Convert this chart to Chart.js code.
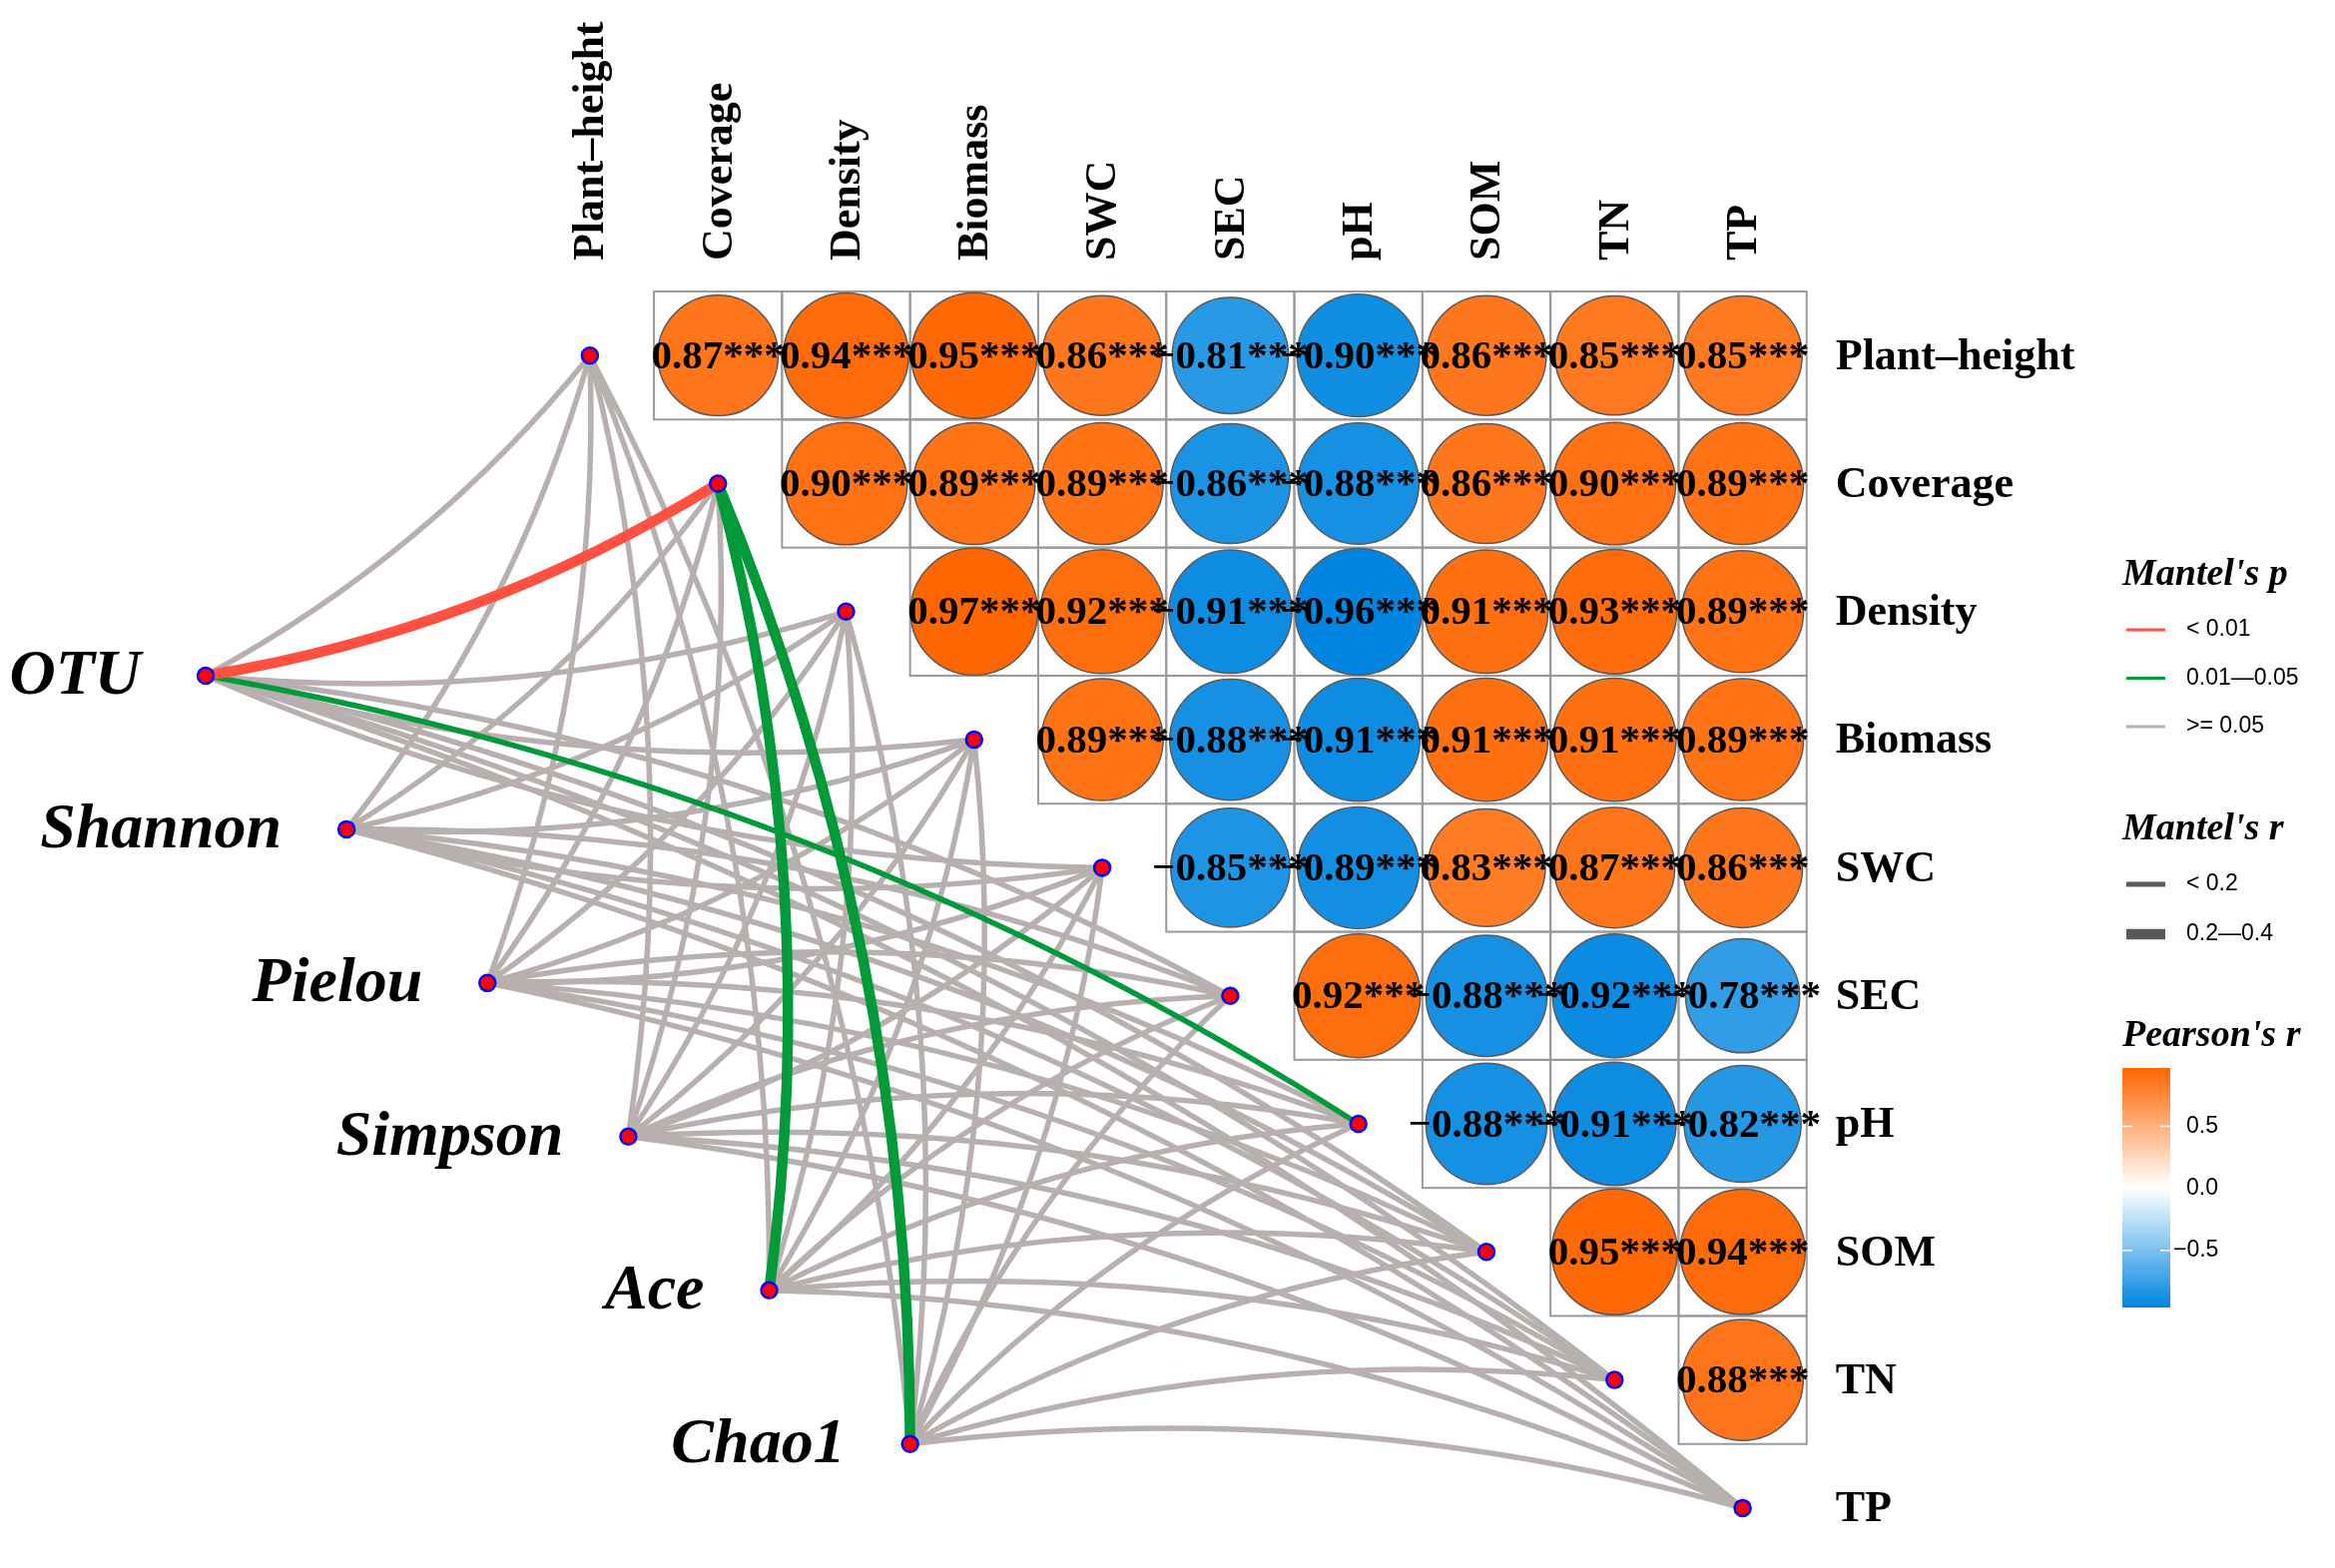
<!DOCTYPE html>
<html>
<head>
<meta charset="utf-8">
<title>Mantel test and Pearson correlation</title>
<script src="https://cdn.jsdelivr.net/npm/chart.js@4.4.1/dist/chart.umd.min.js"></script>
<style>
  html, body { margin: 0; padding: 0; background: #fff; }
</style>
</head>
<body>
<canvas id="chart" width="2339" height="1571"></canvas>
<script>
// environmental factors (rows / columns of the matrix)
const envNames = ['Plant–height', 'Coverage', 'Density', 'Biomass', 'SWC', 'SEC', 'pH', 'SOM', 'TN', 'TP'];
// community indices (nodes on the left)
const specNames = ['OTU', 'Shannon', 'Pielou', 'Simpson', 'Ace', 'Chao1'];

// Pearson's r, upper triangle, each row starts right of the diagonal
const rPlantHeight = [0.87, 0.94, 0.95, 0.86, -0.81, -0.90, 0.86, 0.85, 0.85];
const rCoverage = [0.90, 0.89, 0.89, -0.86, -0.88, 0.86, 0.90, 0.89];
const rDensity = [0.97, 0.92, -0.91, -0.96, 0.91, 0.93, 0.89];
const rBiomass = [0.89, -0.88, -0.91, 0.91, 0.91, 0.89];
const rSWC = [-0.85, -0.89, 0.83, 0.87, 0.86];
const rSEC = [0.92, -0.88, -0.92, -0.78];
const rPH = [-0.88, -0.91, -0.82];
const rSOM = [0.95, 0.94];
const rTN = [0.88];
const corrRows = [rPlantHeight, rCoverage, rDensity, rBiomass, rSWC, rSEC, rPH, rSOM, rTN];
const signif = '***';

// Mantel's p class per env factor: 0 = < 0.01, 1 = 0.01-0.05, 2 = >= 0.05
const pOTU     = [2, 0, 2, 2, 2, 2, 1, 2, 2, 2];
const pShannon = [2, 2, 2, 2, 2, 2, 2, 2, 2, 2];
const pPielou  = [2, 2, 2, 2, 2, 2, 2, 2, 2, 2];
const pSimpson = [2, 2, 2, 2, 2, 2, 2, 2, 2, 2];
const pAce     = [2, 1, 2, 2, 2, 2, 2, 2, 2, 2];
const pChao1   = [2, 1, 2, 2, 2, 2, 2, 2, 2, 2];
const mantelP = [pOTU, pShannon, pPielou, pSimpson, pAce, pChao1];

// Mantel's r class: 0 = < 0.2, 1 = 0.2-0.4
const rcOTU     = [0, 1, 0, 0, 0, 0, 0, 0, 0, 0];
const rcShannon = [0, 0, 0, 0, 0, 0, 0, 0, 0, 0];
const rcPielou  = [0, 0, 0, 0, 0, 0, 0, 0, 0, 0];
const rcSimpson = [0, 0, 0, 0, 0, 0, 0, 0, 0, 0];
const rcAce     = [0, 1, 0, 0, 0, 0, 0, 0, 0, 0];
const rcChao1   = [0, 1, 0, 0, 0, 0, 0, 0, 0, 0];
const mantelR = [rcOTU, rcShannon, rcPielou, rcSimpson, rcAce, rcChao1];

const pLabels = ['< 0.01', '0.01—0.05', '>= 0.05'];
const rLabels = ['< 0.2', '0.2—0.4'];
const barTicks = [0.5, 0.0, -0.5];
const barTickLabels = ['0.5', '0.0', '−0.5'];

// ---- styling / layout ----
const unit = 128.3;            // pixels per matrix cell
const pColours = ['#FF5040', '#009A3A', '#B8AFAF'];
const rWidths = [5.5, 10.5];
const specLayout = { x0: -3.0, dx: 1.1, y0: 2.5, dy: 1.2 };
const curvature = 0.1;
const colLimits = [-0.96, 0.97];
const blueEnd = [0, 134, 224];
const orangeEnd = [255, 102, 0];
const serif = '"Liberation Serif", "Times New Roman", serif';
const sans = '"Liberation Sans", Arial, sans-serif';

// marks near the canvas edge must not shrink the chart area
class FlatBubble extends Chart.BubbleController { getMaxOverflow() { return 0; } }
FlatBubble.id = 'flatBubble';
FlatBubble.defaults = Chart.BubbleController.defaults;
class FlatScatter extends Chart.ScatterController { getMaxOverflow() { return 0; } }
FlatScatter.id = 'flatScatter';
FlatScatter.defaults = Chart.ScatterController.defaults;
Chart.register(FlatBubble, FlatScatter);

// blue - white - orange gradient over the data range
function fillFor(v) {
  const p = (v - colLimits[0]) / (colLimits[1] - colLimits[0]);
  let end, t;
  if (p < 0.5) { end = blueEnd; t = 1 - p / 0.5; }
  else { end = orangeEnd; t = (p - 0.5) / 0.5; }
  t = Math.max(0, Math.min(1, t));
  const c = end.map(e => Math.round(255 + (e - 255) * t));
  return 'rgb(' + c.join(',') + ')';
}

// ---- datasets ----
const cellData = [];
corrRows.forEach((row, i) => {
  row.forEach((v, k) => cellData.push({
    x: i + 1 + k,
    y: i,
    v: v,
    r: unit / 2 * Math.sqrt(Math.abs(v)) + 0.5
  }));
});

const envNodes = envNames.map((n, j) => ({ x: j, y: j }));
const specNodes = specNames.map((n, k) => ({
  x: specLayout.x0 + specLayout.dx * k,
  y: specLayout.y0 + specLayout.dy * k
}));

const datasets = [];
datasets.push({
  type: 'flatScatter',
  data: envNodes.concat(specNodes),
  pointRadius: 8,
  backgroundColor: '#FF0000',
  borderColor: '#0000FF',
  borderWidth: 2.5,
  order: 0
});
datasets.push({
  type: 'flatBubble',
  data: cellData,
  backgroundColor: cellData.map(d => fillFor(d.v)),
  borderColor: '#5A5A5A',
  borderWidth: 1.5,
  hoverRadius: 0,
  order: 1
});
specNames.forEach((s, k) => {
  envNames.forEach((e, j) => {
    const pc = mantelP[k][j];
    datasets.push({
      type: 'flatScatter',
      edge: true,
      bend: j <= 4 ? 1 : -1,
      data: [specNodes[k], envNodes[j]],
      borderColor: pColours[pc],
      borderWidth: rWidths[mantelR[k][j]],
      pointRadius: 0,
      order: pc === 2 ? 3 : 2
    });
  });
});

// ---- plugins ----
const gridCells = {
  id: 'gridCells',
  beforeDatasetsDraw(chart) {
    const { ctx, scales: { x, y } } = chart;
    ctx.save();
    ctx.strokeStyle = '#9A9A9A';
    ctx.lineWidth = 2;
    corrRows.forEach((row, i) => {
      row.forEach((v, k) => {
        const j = i + 1 + k;
        const x0 = x.getPixelForValue(j - 0.5), x1 = x.getPixelForValue(j + 0.5);
        const y0 = y.getPixelForValue(i - 0.5), y1 = y.getPixelForValue(i + 0.5);
        ctx.strokeRect(x0, y0, x1 - x0, y1 - y0);
      });
    });
    ctx.restore();
  }
};

const edgeCurves = {
  id: 'edgeCurves',
  beforeDatasetDraw(chart, args) {
    const ds = chart.data.datasets[args.index];
    if (!ds.edge) return;
    const a = args.meta.data[0], b = args.meta.data[1];
    const dx = b.x - a.x, dy = b.y - a.y;
    const cx = (a.x + b.x) / 2 + ds.bend * curvature * -dy;
    const cy = (a.y + b.y) / 2 + ds.bend * curvature * dx;
    const ctx = chart.ctx;
    ctx.save();
    ctx.beginPath();
    ctx.moveTo(a.x, a.y);
    ctx.quadraticCurveTo(cx, cy, b.x, b.y);
    ctx.strokeStyle = ds.borderColor;
    ctx.lineWidth = ds.borderWidth;
    ctx.lineCap = 'butt';
    ctx.stroke();
    ctx.restore();
    return false;
  }
};

const labels = {
  id: 'labels',
  afterDatasetsDraw(chart) {
    const { ctx, scales: { x, y } } = chart;
    ctx.save();
    ctx.fillStyle = '#000';
    // values in the circles
    const meta = chart.getDatasetMeta(1);
    ctx.font = 'bold 41px ' + serif;
    ctx.textAlign = 'center';
    ctx.textBaseline = 'middle';
    meta.data.forEach((el, k) => {
      const v = cellData[k].v;
      const txt = (v < 0 ? '−' : '') + Math.abs(v).toFixed(2) + signif;
      ctx.fillText(txt, el.x, el.y + 2);
    });
    // column labels (top, rotated)
    ctx.font = 'bold 44px ' + serif;
    ctx.textAlign = 'left';
    const topY = y.getPixelForValue(-0.5) - 31;
    envNames.forEach((n, j) => {
      ctx.save();
      ctx.translate(x.getPixelForValue(j) + 2, topY);
      ctx.rotate(-Math.PI / 2);
      ctx.fillText(n, 0, 0);
      ctx.restore();
    });
    // row labels (right)
    const rightX = x.getPixelForValue(9.5) + 29;
    envNames.forEach((n, i) => ctx.fillText(n, rightX, y.getPixelForValue(i) + 2));
    // community labels
    ctx.font = 'italic bold 64px ' + serif;
    ctx.textAlign = 'right';
    const nodeMeta = chart.getDatasetMeta(0);
    specNames.forEach((n, k) => {
      const el = nodeMeta.data[envNames.length + k];
      ctx.fillText(n, el.x - 65, el.y + 2);
    });
    ctx.restore();
  },
  afterDraw(chart) {
    const ctx = chart.ctx;
    ctx.save();
    ctx.fillStyle = '#000';
    ctx.textBaseline = 'middle';
    ctx.textAlign = 'left';
    const lx = 2126;
    const titleFont = 'italic bold 38px ' + serif;
    const itemFont = '23px ' + sans;
    // Mantel's p
    ctx.font = titleFont;
    ctx.fillText("Mantel's p", lx, 576);
    ctx.font = itemFont;
    pLabels.forEach((t, k) => {
      const yy = 631 + k * 48.5;
      ctx.strokeStyle = pColours[k];
      ctx.lineWidth = 3;
      ctx.beginPath(); ctx.moveTo(2130, yy); ctx.lineTo(2169, yy); ctx.stroke();
      ctx.fillText(t, 2190, yy);
    });
    // Mantel's r
    ctx.font = titleFont;
    ctx.fillText("Mantel's r", lx, 831);
    ctx.font = itemFont;
    const legW = [5, 10.5];
    rLabels.forEach((t, k) => {
      const yy = 886 + k * 50;
      ctx.strokeStyle = '#5A5A5A';
      ctx.lineWidth = legW[k];
      ctx.beginPath(); ctx.moveTo(2130, yy); ctx.lineTo(2169, yy); ctx.stroke();
      ctx.fillText(t, 2190, yy);
    });
    // Pearson's r colour bar
    ctx.font = titleFont;
    ctx.fillText("Pearson's r", lx, 1038);
    const bx = 2126, bw = 48, bTop = 1070, bBot = 1310;
    const vTop = colLimits[1], vBot = colLimits[0];
    const grad = ctx.createLinearGradient(0, bTop, 0, bBot);
    for (let s = 0; s <= 40; s++) {
      const v = vTop + (vBot - vTop) * s / 40;
      grad.addColorStop(s / 40, fillFor(v));
    }
    ctx.fillStyle = grad;
    ctx.fillRect(bx, bTop, bw, bBot - bTop);
    const vy = v => bTop + (vTop - v) / (vTop - vBot) * (bBot - bTop);
    ctx.strokeStyle = '#FFFFFF';
    ctx.lineWidth = 1.5;
    ctx.font = itemFont;
    ctx.fillStyle = '#000';
    barTicks.forEach((v, k) => {
      const yy = vy(v);
      ctx.beginPath();
      ctx.moveTo(bx, yy); ctx.lineTo(bx + 10, yy);
      ctx.moveTo(bx + bw - 10, yy); ctx.lineTo(bx + bw, yy);
      ctx.stroke();
      const tx = barTickLabels[k].startsWith('−') ? 2177 : 2190;
      ctx.fillText(barTickLabels[k], tx, yy);
    });
    ctx.restore();
  }
};

new Chart(document.getElementById('chart'), {
  type: 'scatter',
  data: { datasets: datasets },
  options: {
    responsive: false,
    devicePixelRatio: 1,
    animation: false,
    events: [],
    layout: { padding: 0 },
    plugins: { legend: { display: false }, tooltip: { enabled: false } },
    scales: {
      x: { type: 'linear', display: false, min: -590.9 / unit, max: -590.9 / unit + 2339 / unit },
      y: { type: 'linear', display: false, reverse: true, min: -356.2 / unit, max: -356.2 / unit + 1571 / unit }
    }
  },
  plugins: [gridCells, edgeCurves, labels]
});
</script>
</body>
</html>
